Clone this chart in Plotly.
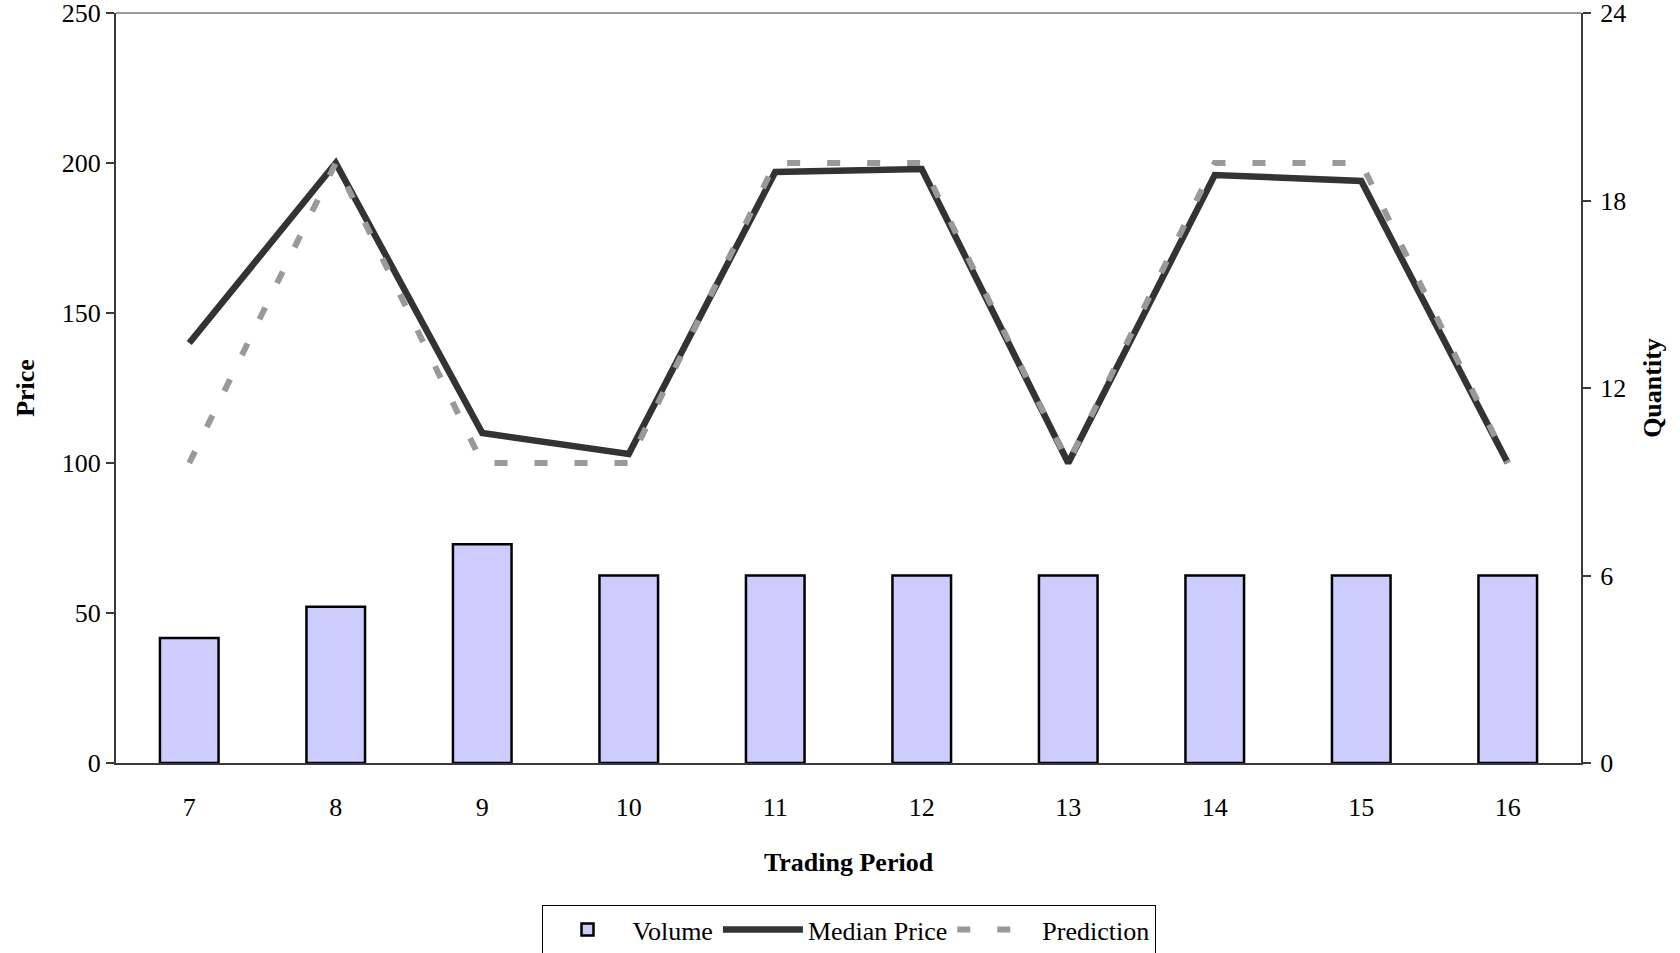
import plotly.graph_objects as go

# Trading periods and series
periods = [7, 8, 9, 10, 11, 12, 13, 14, 15, 16]
period_labels = [str(p) for p in periods]
volume = [4, 5, 7, 6, 6, 6, 6, 6, 6, 6]
median_price = [140, 200, 110, 103, 197, 198, 100, 196, 194, 100]
prediction = [100, 200, 100, 100, 200, 200, 100, 200, 200, 100]

price_ticks = [0, 50, 100, 150, 200, 250]
quantity_ticks = [0, 6, 12, 18, 24]

FONT = "Liberation Serif"
AXIS_COLOR = "#3a3a3a"

x_range = [periods[0] - 0.5, periods[-1] + 0.5]
boundaries = [p - 0.5 for p in periods] + [periods[-1] + 0.5]

fig = go.Figure()

fig.add_trace(go.Bar(
    x=periods, y=volume, name="Volume", yaxis="y2", width=0.4,
    marker=dict(color="#CCCCFF", line=dict(color="black", width=2.5)),
))
fig.add_trace(go.Scatter(
    x=periods, y=median_price, name="Median Price", mode="lines",
    line=dict(color="#333333", width=6.5),
))
fig.add_trace(go.Scatter(
    x=periods, y=prediction, name="Prediction", mode="lines",
    line=dict(color="#999999", width=6, dash="13px,27px"),
))

tick_font = dict(family=FONT, size=26, color="black")
title_font = dict(family=FONT, size=26, color="black")

fig.update_layout(
    width=1680, height=953,
    margin=dict(l=116, r=99, t=13, b=190, autoexpand=False),
    paper_bgcolor="white", plot_bgcolor="white",
    font=dict(family=FONT, size=26, color="black"),
    showlegend=True,
    legend=dict(
        orientation="h", x=0.5, xanchor="center", xref="paper",
        y=1 - 905 / 953, yanchor="top", yref="container",
        bordercolor="black", borderwidth=1, font=dict(family=FONT, size=26),
        itemwidth=80, tracegroupgap=0,
    ),
    xaxis=dict(
        range=x_range, tickvals=periods, ticktext=period_labels,
        ticks="", showgrid=False, zeroline=False,
        showline=True, linecolor=AXIS_COLOR, linewidth=2,
        tickfont=tick_font, ticklabelstandoff=20, ticklabeloverflow="allow",
        title=dict(text="<b>Trading Period</b>", font=title_font, standoff=32),
    ),
    # boundary tick marks below and above the category axis
    xaxis2=dict(
        overlaying="x", anchor="y", range=x_range, tickvals=boundaries,
        ticks="outside", ticklen=8, tickwidth=1.5, tickcolor=AXIS_COLOR,
        showticklabels=False, showgrid=False, zeroline=False, showline=False,
    ),
    xaxis3=dict(
        overlaying="x", anchor="y", range=x_range, tickvals=boundaries,
        ticks="inside", ticklen=8, tickwidth=1.5, tickcolor=AXIS_COLOR,
        showticklabels=False, showgrid=False, zeroline=False, showline=False,
    ),
    yaxis=dict(
        range=[0, 250], tickvals=price_ticks, ticks="outside", ticklen=8,
        tickwidth=1.5, tickcolor=AXIS_COLOR, showgrid=False, zeroline=False,
        showline=True, linecolor=AXIS_COLOR, linewidth=2,
        tickfont=tick_font, ticklabelstandoff=0, ticklabeloverflow="allow",
        title=dict(text="<b>Price</b>", font=title_font, standoff=20),
    ),
    yaxis2=dict(
        overlaying="y", side="right", anchor="x", range=[0, 24],
        tickvals=quantity_ticks, ticks="outside", ticklen=8, tickwidth=1.5,
        tickcolor=AXIS_COLOR, showgrid=False, zeroline=False,
        showline=True, linecolor=AXIS_COLOR, linewidth=2,
        tickfont=tick_font, ticklabelstandoff=4, ticklabeloverflow="allow",
        title=dict(text="<b>Quantity</b>", font=title_font, standoff=18),
    ),
    yaxis3=dict(
        overlaying="y", side="left", anchor="x", range=[0, 250],
        tickvals=price_ticks, ticks="inside", ticklen=8, tickwidth=1.5,
        tickcolor=AXIS_COLOR, showticklabels=False, showgrid=False,
        zeroline=False, showline=False,
    ),
    yaxis4=dict(
        overlaying="y", side="right", anchor="x", range=[0, 24],
        tickvals=quantity_ticks, ticks="inside", ticklen=8, tickwidth=1.5,
        tickcolor=AXIS_COLOR, showticklabels=False, showgrid=False,
        zeroline=False, showline=False,
    ),
    shapes=[dict(
        type="line", xref="paper", yref="paper", x0=0, x1=1, y0=1, y1=1,
        line=dict(color="#999999", width=2),
    )],
)

fig.write_html("out.html")
